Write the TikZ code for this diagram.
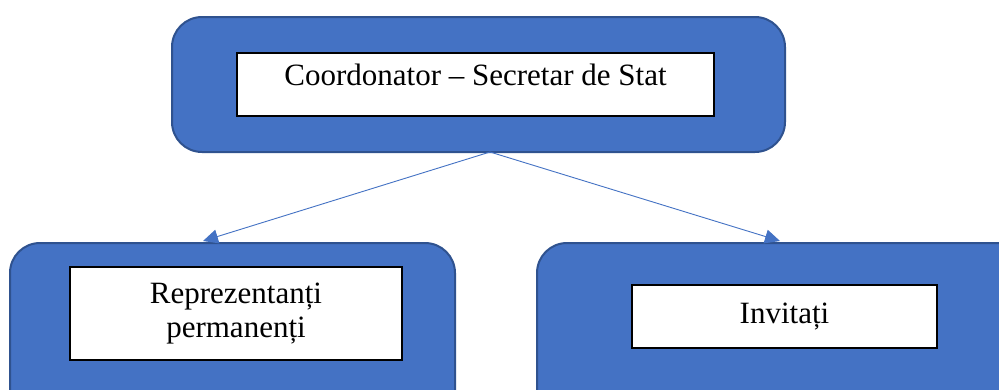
\documentclass[tikz,border=0pt]{standalone}
\usepackage{fontspec}
\setmainfont{Liberation Serif}
\usetikzlibrary{arrows.meta}
\definecolor{boxblue}{HTML}{4472C4}
\definecolor{boxedge}{HTML}{2F528F}
\begin{document}
\begin{tikzpicture}[x=1pt,y=-1pt,
  outer/.style={draw=boxedge, fill=boxblue, line width=2pt, rounded corners=30pt, inner sep=0pt},
  inner/.style={draw=black, fill=white, line width=1.6pt, inner sep=0pt, align=center,
    font=\fontsize{31}{34}\selectfont},
  link/.style={draw=boxblue, line width=0.9pt, -{Triangle[length=15pt,width=14pt]}}]
\useasboundingbox (0,0) rectangle (999,389);
\clip (0,0) rectangle (999,389);
\fill[white] (0,0) rectangle (999,389);
% outer boxes
\node[outer, minimum width=613pt, minimum height=135pt] (top) at (478.5,84.5) {};
\node[outer, minimum width=445pt, minimum height=180pt] (left) at (232.5,333) {};
\node[outer, minimum width=503pt, minimum height=180pt] (right) at (788.5,333) {};
% inner boxes
\node[inner, minimum width=477pt, minimum height=63pt, text depth=20pt] (topin) at (475.5,84.5) {Coordonator – Secretar de Stat};
\node[inner, minimum width=332pt, minimum height=93pt] (leftin) at (236,313.5) {Reprezentanți\\permanenți};
\node[inner, minimum width=305pt, minimum height=63pt] (rightin) at (784.5,316.5) {Invitați};
% connectors
\coordinate (src) at (490,152);
\coordinate (ltip) at (203,241);
\coordinate (rtip) at (780,241);
\draw[link] (src) -- (ltip);
\draw[link] (src) -- (rtip);
\end{tikzpicture}
\end{document}
